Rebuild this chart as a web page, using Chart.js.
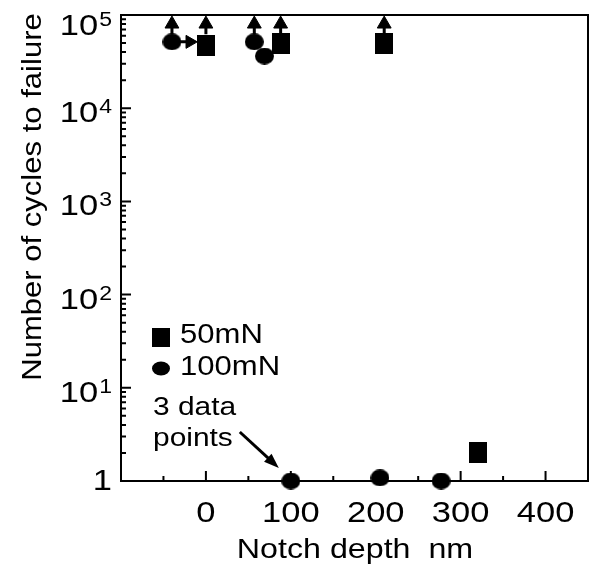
<!DOCTYPE html>
<html>
<head>
<meta charset="utf-8">
<script src="https://cdn.jsdelivr.net/npm/chart.js@4.4.1/dist/chart.umd.min.js"></script>
<style>
  body { margin: 0; background: #fff; }
  canvas { display: block; }
</style>
</head>
<body>
<canvas id="chart" width="589" height="578"></canvas>
<script>
// datos
const sq50X = [0, 88, 210, 320];
const sq50Y = [47600, 50000, 50000, 2];
const c100X = [-40, 57, 69, 100, 205, 277];
const c100Y = [51500, 51500, 36300, 1, 1.08, 1];
// flechas de "no falló" (runout) encima de los puntos
const runoutX = [-40, 0, 57, 88, 210];
const runoutY = [80000, 80000, 80000, 80000, 80000];
const stemLow = 62000;
const stemHigh = 74000;
// flecha horizontal entre el círculo y el cuadrado
const pushX = [-19];
const pushY = [51500];

const xTicks = [0, 100, 200, 300, 400];
const xMinor = [-50, 50, 150, 250, 350];
const yDecades = [1, 10, 100, 1000, 10000, 100000];
const yLabels = ["1", "10|1", "10|2", "10|3", "10|4", "10|5"];

const FONT = "'Liberation Sans', Arial, sans-serif";
const STRETCH = 1.15; // la letra del original es más ancha que Arial

function makeRect(w, h) {
  const c = document.createElement("canvas");
  c.width = w; c.height = h;
  const g = c.getContext("2d");
  g.fillStyle = "#000";
  g.fillRect(0, 0, w, h);
  return c;
}
function makeEllipse(w, h) {
  const c = document.createElement("canvas");
  c.width = w; c.height = h;
  const g = c.getContext("2d");
  g.fillStyle = "#000";
  g.beginPath();
  g.ellipse(w / 2, h / 2, w / 2, h / 2, 0, 0, Math.PI * 2);
  g.fill();
  return c;
}
const squareImg = makeRect(18, 21);
const circleImg = makeEllipse(19, 17);

// texto estirado en horizontal; align: "left" | "center" | "right"
function textW(ctx, txt, size) {
  ctx.font = size + "px " + FONT;
  return ctx.measureText(txt).width * STRETCH;
}
function drawText(ctx, txt, x, y, size, align) {
  const w = textW(ctx, txt, size);
  let x0 = x;
  if (align === "center") x0 = x - w / 2;
  if (align === "right") x0 = x - w;
  ctx.save();
  ctx.translate(x0, y);
  ctx.scale(STRETCH, 1);
  ctx.textAlign = "left";
  ctx.textBaseline = "alphabetic";
  ctx.fillText(txt, 0, 0);
  ctx.restore();
}

// trozos de línea de las flechas, con huecos (null)
const stemData = [];
runoutX.forEach(x => {
  stemData.push({ x: x, y: stemLow }, { x: x, y: stemHigh }, { x: x, y: null });
});
stemData.push({ x: c100X[0], y: pushY[0] }, { x: pushX[0], y: pushY[0] });

const decoPlugin = {
  id: "deco",
  beforeDatasetsDraw(chart) {
    const ctx = chart.ctx;
    const a = chart.chartArea;
    const xs = chart.scales.x, ys = chart.scales.y;
    ctx.save();
    ctx.strokeStyle = "#000";
    ctx.lineWidth = 2;
    ctx.strokeRect(a.left, a.top, a.right - a.left, a.bottom - a.top);
    ctx.beginPath();
    xTicks.forEach(v => {
      const px = xs.getPixelForValue(v);
      ctx.moveTo(px, a.bottom); ctx.lineTo(px, a.bottom - 10);
    });
    xMinor.forEach(v => {
      const px = xs.getPixelForValue(v);
      ctx.moveTo(px, a.bottom); ctx.lineTo(px, a.bottom - 5);
    });
    yDecades.forEach((d, i) => {
      const py = ys.getPixelForValue(d);
      ctx.moveTo(a.left, py); ctx.lineTo(a.left + 10, py);
      if (i < yDecades.length - 1) {
        for (let k = 2; k <= 9; k++) {
          const pm = ys.getPixelForValue(d * k);
          ctx.moveTo(a.left, pm); ctx.lineTo(a.left + 5, pm);
        }
      }
    });
    ctx.stroke();
    ctx.restore();
  },
  afterDatasetsDraw(chart) {
    const ctx = chart.ctx;
    const a = chart.chartArea;
    const xs = chart.scales.x, ys = chart.scales.y;
    ctx.save();
    ctx.fillStyle = "#000";

    // etiquetas del eje x
    xTicks.forEach(v => {
      drawText(ctx, String(v), xs.getPixelForValue(v), a.bottom + 41, 30, "center");
    });

    // etiquetas del eje y con exponente
    yDecades.forEach((d, i) => {
      const parts = yLabels[i].split("|");
      let base = ys.getPixelForValue(d) + 14;
      base = Math.max(base, a.top + 20);
      base = Math.min(base, a.bottom + 9);
      const right = a.left - 9;
      if (parts[1]) {
        const wSup = textW(ctx, parts[1], 20);
        drawText(ctx, parts[1], right - wSup, base - 9, 20, "left");
        drawText(ctx, parts[0], right - wSup - 1, base, 30, "right");
      } else {
        drawText(ctx, parts[0], right, base, 30, "right");
      }
    });

    // títulos de ejes
    drawText(ctx, "Notch depth  nm", 355, 558, 28, "center");
    ctx.save();
    ctx.translate(41, 197);
    ctx.rotate(-Math.PI / 2);
    drawText(ctx, "Number of cycles to failure", 0, 0, 27, "center");
    ctx.restore();

    // leyenda
    const lx = a.left + 40;
    ctx.drawImage(squareImg, lx - 9, 328, 18, 19);
    ctx.beginPath();
    ctx.ellipse(lx, 368.5, 9, 7, 0, 0, Math.PI * 2);
    ctx.fill();
    drawText(ctx, "50mN", lx + 19, 343, 27, "left");
    drawText(ctx, "100mN", lx + 19, 375, 27, "left");

    // anotación "3 data points"
    drawText(ctx, "3 data", a.left + 32, 415, 26, "left");
    drawText(ctx, "points", a.left + 32, 446, 26, "left");
    const tipX = xs.getPixelForValue(c100X[3]) - 12;
    const tipY = ys.getPixelForValue(c100Y[3]) - 13;
    const sx = tipX - 39, sy = tipY - 36;
    const ang = Math.atan2(tipY - sy, tipX - sx);
    ctx.strokeStyle = "#000";
    ctx.lineWidth = 3;
    ctx.beginPath();
    ctx.moveTo(sx, sy);
    ctx.lineTo(tipX - 10 * Math.cos(ang), tipY - 10 * Math.sin(ang));
    ctx.stroke();
    ctx.beginPath();
    ctx.moveTo(tipX, tipY);
    ctx.lineTo(tipX - 15 * Math.cos(ang) + 5.5 * Math.sin(ang), tipY - 15 * Math.sin(ang) - 5.5 * Math.cos(ang));
    ctx.lineTo(tipX - 15 * Math.cos(ang) - 5.5 * Math.sin(ang), tipY - 15 * Math.sin(ang) + 5.5 * Math.cos(ang));
    ctx.closePath();
    ctx.fill();
    ctx.restore();
  }
};

new Chart(document.getElementById("chart").getContext("2d"), {
  type: "scatter",
  data: {
    datasets: [
      {
        label: "stems",
        type: "line",
        data: stemData,
        borderColor: "#000",
        borderWidth: 3,
        pointRadius: 0,
        spanGaps: false,
        clip: false
      },
      {
        label: "runout",
        data: runoutX.map((x, i) => ({ x: x, y: runoutY[i] })),
        pointStyle: "triangle",
        pointRadius: 8,
        backgroundColor: "#000",
        borderColor: "#000",
        borderWidth: 1,
        clip: false
      },
      {
        label: "push",
        data: pushX.map((x, i) => ({ x: x, y: pushY[i] })),
        pointStyle: "triangle",
        rotation: 90,
        pointRadius: 7.5,
        backgroundColor: "#000",
        borderColor: "#000",
        borderWidth: 1,
        clip: false
      },
      {
        label: "50mN",
        data: sq50X.map((x, i) => ({ x: x, y: sq50Y[i] })),
        pointStyle: squareImg,
        pointRadius: 10,
        clip: false
      },
      {
        label: "100mN",
        data: c100X.map((x, i) => ({ x: x, y: c100Y[i] })),
        pointStyle: circleImg,
        pointRadius: 10,
        clip: false
      }
    ]
  },
  options: {
    responsive: false,
    animation: false,
    layout: { autoPadding: false, padding: { left: 121, top: 15, right: 1, bottom: 97 } },
    plugins: {
      legend: { display: false },
      tooltip: { enabled: false }
    },
    scales: {
      x: {
        type: "linear",
        min: -100,
        max: 450,
        grid: { display: false, drawTicks: false, tickLength: 0 },
        border: { display: false },
        ticks: { display: false }
      },
      y: {
        type: "logarithmic",
        min: 1,
        max: 100000,
        grid: { display: false, drawTicks: false, tickLength: 0 },
        border: { display: false },
        ticks: { display: false }
      }
    }
  },
  plugins: [decoPlugin]
});
</script>
</body>
</html>
